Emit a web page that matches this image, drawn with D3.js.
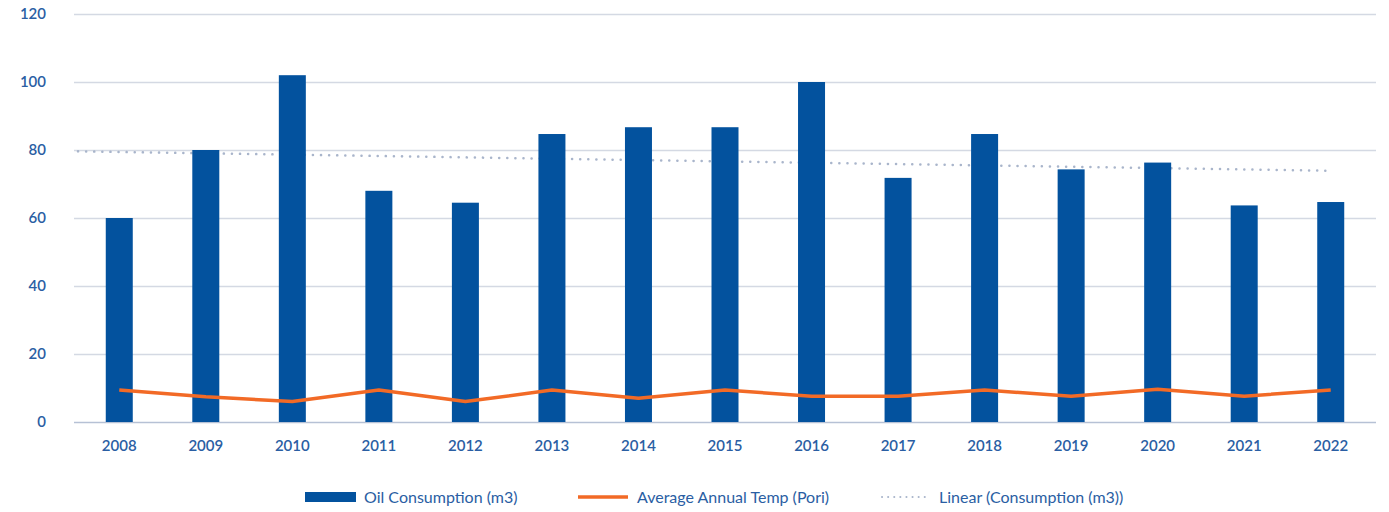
<!DOCTYPE html>
<style>
body { margin: 0; background: #fff; }
.axis text { font: 600 15px Lato, sans-serif; fill: #2a5ea3; }
.legend text { font: 16px Lato, sans-serif; fill: #2a5ea3; }
</style>
<svg width="1389" height="512"></svg>
<script src="https://cdnjs.cloudflare.com/ajax/libs/d3/7.8.5/d3.min.js"></script>
<script>
var years = ["2008","2009","2010","2011","2012","2013","2014","2015","2016","2017","2018","2019","2020","2021","2022"];
var consumption = [60, 80, 102, 68, 64.5, 84.7, 86.7, 86.7, 100, 71.8, 84.7, 74.3, 76.3, 63.7, 64.7];
var temperature = [9.4, 7.4, 6, 9.4, 6, 9.4, 7, 9.4, 7.6, 7.6, 9.4, 7.6, 9.6, 7.6, 9.4];
// linear trendline endpoints (start at plot edge, end at 2022)
var trendValues = [79.6, 73.9];
var yTicks = [0, 20, 40, 60, 80, 100, 120];
var seriesNames = ["Oil Consumption (m3)", "Average Annual Temp (Pori)", "Linear (Consumption (m3))"];

var svg = d3.select("svg"),
    margin = {top: 14, right: 15, bottom: 90, left: 76},
    width = +svg.attr("width") - margin.left - margin.right,
    height = +svg.attr("height") - margin.top - margin.bottom,
    g = svg.append("g").attr("transform", "translate(" + margin.left + "," + margin.top + ")");

var x = d3.scaleBand().domain(years).range([0, width]);
var y = d3.scaleLinear().domain([0, 120]).range([height, 0]);
var barW = 27;
var cx = function(i) { return x(years[i]) + x.bandwidth() / 2; };

// grid
g.append("g").selectAll("line")
  .data(yTicks)
  .enter().append("line")
    .attr("x1", -2).attr("x2", width + 2)
    .attr("y1", function(d) { return y(d) + 0.5; })
    .attr("y2", function(d) { return y(d) + 0.5; })
    .attr("stroke", function(d) { return d === 0 ? "#b6c1d5" : "#d4d9e3"; })
    .attr("stroke-width", 1.5);

// y labels
g.append("g").attr("class", "axis")
  .selectAll("text")
  .data(yTicks)
  .enter().append("text")
    .attr("x", -30)
    .attr("y", function(d) { return y(d); })
    .attr("dy", "0.35em")
    .attr("text-anchor", "end")
    .text(function(d) { return d; });

// linear trend
g.append("line")
    .attr("x1", 2).attr("y1", y(trendValues[0]))
    .attr("x2", cx(years.length - 1)).attr("y2", y(trendValues[1]))
    .attr("stroke", "#a9b5cb")
    .attr("stroke-width", 2.5)
    .attr("stroke-linecap", "round")
    .attr("stroke-dasharray", "0.1 8");

// bars
g.append("g").selectAll("rect")
  .data(consumption)
  .enter().append("rect")
    .attr("x", function(d, i) { return cx(i) - barW / 2; })
    .attr("y", function(d) { return y(d); })
    .attr("width", barW)
    .attr("height", function(d) { return y(0) - y(d); })
    .attr("fill", "#03529e");

// temperature line
g.append("path")
    .datum(temperature)
    .attr("fill", "none")
    .attr("stroke", "#f26a26")
    .attr("stroke-width", 3.5)
    .attr("stroke-linejoin", "round")
    .attr("d", d3.line().x(function(d, i) { return cx(i); }).y(function(d) { return y(d); }));

// x labels
g.append("g").attr("class", "axis")
  .selectAll("text")
  .data(years)
  .enter().append("text")
    .attr("x", function(d, i) { return cx(i); })
    .attr("y", height + 24)
    .attr("dy", "0.35em")
    .attr("text-anchor", "middle")
    .text(function(d) { return d; });

// legend
var legend = svg.append("g").attr("class", "legend");
var lx = [305, 578, 880];
legend.append("rect").attr("x", lx[0]).attr("y", 492).attr("width", 51).attr("height", 10).attr("fill", "#03529e");
legend.append("line").attr("x1", lx[1]).attr("x2", lx[1] + 50).attr("y1", 497).attr("y2", 497)
    .attr("stroke", "#f26a26").attr("stroke-width", 3.5);
legend.append("line").attr("x1", lx[2] + 2).attr("x2", lx[2] + 48).attr("y1", 497).attr("y2", 497)
    .attr("stroke", "#a9b5cb").attr("stroke-width", 2).attr("stroke-linecap", "round").attr("stroke-dasharray", "0.1 6");
legend.selectAll("text.lg")
  .data(seriesNames)
  .enter().append("text")
    .attr("class", "lg")
    .attr("x", function(d, i) { return lx[i] + 59; })
    .attr("y", 497)
    .attr("dy", "0.35em")
    .text(function(d) { return d; });
</script>
